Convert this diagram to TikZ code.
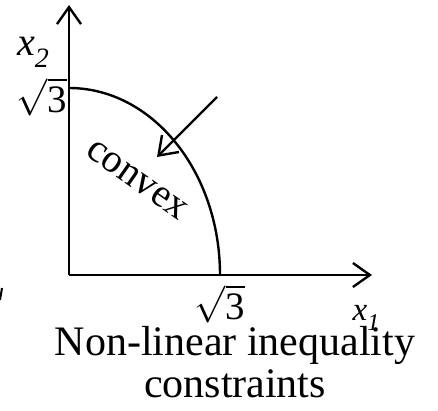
\documentclass[tikz,border=0pt]{standalone}
\usepackage{fontspec}
\setmainfont{Liberation Serif}
\usepackage{graphicx}
\usetikzlibrary{arrows.meta}
\newcommand{\rtthree}{\scalebox{3.7}{$\sqrt{\mbox{\fontsize{10.5}{12}\selectfont 3}}$}}
\tikzset{
  ax/.style={line width=2.4pt,-{Straight Barb[length=17pt,width=24pt,line width=2.4pt]}},
  curve/.style={line width=2.4pt},
  lbl/.style={inner sep=0pt,font=\fontsize{40}{44}\selectfont},
  ttl/.style={inner sep=0pt,font=\fontsize{42}{42}\selectfont,align=center}
}
\begin{document}
\begin{tikzpicture}[x=1pt,y=-1pt]
\useasboundingbox (0,0) rectangle (438,410);
\coordinate (O) at (69,275);
\coordinate (ytip) at (69,5);
\coordinate (xtip) at (372,275);
\coordinate (a1) at (69,88);
\coordinate (p1) at (217,97);
\coordinate (p2) at (157,157);
\draw[ax] (O) -- (ytip);
\draw[ax] (O) -- (xtip);
\draw[curve] (a1) arc[start angle=-90,end angle=0,x radius=151,y radius=187];
\draw[ax] (p1) -- (p2);
\node[lbl] (x2) at (33,52) {\itshape x\raisebox{-0.3em}{\fontsize{28}{30}\selectfont 2}};
\node[inner sep=0pt] (s3a) at (42,97) {\rtthree};
\node[inner sep=0pt] (s3b) at (220,304) {\rtthree};
\node[lbl,rotate=-35] (cv) at (137,180) {convex};
\node[lbl,font=\fontsize{33}{35}\selectfont] (x1) at (366,318) {\itshape x\raisebox{-0.3em}{\fontsize{24}{26}\selectfont 1}};
\node[ttl,anchor=base] (t1) at (235,355) {Non-linear inequality};
\node[ttl,anchor=base] (t2) at (235,397) {constraints};
\draw[line width=2pt] (2,288) -- (0,300);
\end{tikzpicture}
\end{document}
